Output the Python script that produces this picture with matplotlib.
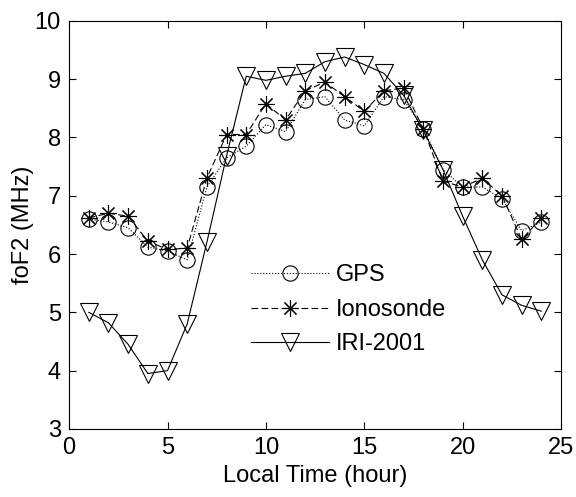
import matplotlib
matplotlib.use("Agg")
import matplotlib.pyplot as plt

plt.rcParams['font.family'] = ['Liberation Sans', 'DejaVu Sans']

hours = list(range(1, 25))
gps = [6.6, 6.55, 6.45, 6.12, 6.05, 5.9, 7.15, 7.65, 7.85, 8.22, 8.1, 8.65,
       8.7, 8.3, 8.2, 8.7, 8.65, 8.15, 7.45, 7.15, 7.15, 6.95, 6.4, 6.55]
iono = [6.62, 6.7, 6.65, 6.22, 6.08, 6.1, 7.3, 8.05, 8.05, 8.58, 8.3, 8.8,
        8.95, 8.7, 8.45, 8.8, 8.85, 8.15, 7.25, 7.15, 7.3, 7.0, 6.25, 6.62]
iri = [5.0, 4.82, 4.45, 3.95, 4.0, 4.8, 6.2, 7.68, 9.05, 8.98, 9.05, 9.1,
       9.3, 9.38, 9.25, 9.1, 8.72, 8.12, 7.45, 6.65, 5.9, 5.3, 5.12, 5.02]

fig = plt.figure(figsize=(5.76, 4.97), dpi=100)
ax = fig.add_axes([0.12, 0.137, 0.854, 0.821])

ax.plot(hours, gps, linestyle=':', color='k', lw=0.8, marker='o',
        markersize=11, markerfacecolor='none', markeredgecolor='k',
        markeredgewidth=0.8, label='GPS')
ax.plot(hours, iono, linestyle=(0, (6, 3)), color='k', lw=0.8, marker=(8, 2, 0),
        markersize=12, markeredgecolor='k', markeredgewidth=0.8,
        label='Ionosonde')
ax.plot(hours, iri, linestyle='-', color='k', lw=0.8, marker='v',
        markersize=13, markerfacecolor='none', markeredgecolor='k',
        markeredgewidth=0.8, label='IRI-2001')

ax.set_xlim(0, 25)
ax.set_ylim(3, 10)
ax.set_xticks([0, 5, 10, 15, 20, 25])
ax.set_yticks([3, 4, 5, 6, 7, 8, 9, 10])
ax.tick_params(direction='in', top=True, right=True, labelsize=17, length=5, pad=6)
ax.set_xlabel('Local Time (hour)', fontsize=17, labelpad=4)
ax.set_ylabel('foF2 (MHz)', fontsize=17, labelpad=0.5)

ax.legend(loc='upper left', bbox_to_anchor=(0.37, 0.403), frameon=False,
          fontsize=17, handlelength=3.3, handletextpad=0.3, labelspacing=0.53,
          borderpad=0, borderaxespad=0)

fig.savefig('out.png', dpi=100)
